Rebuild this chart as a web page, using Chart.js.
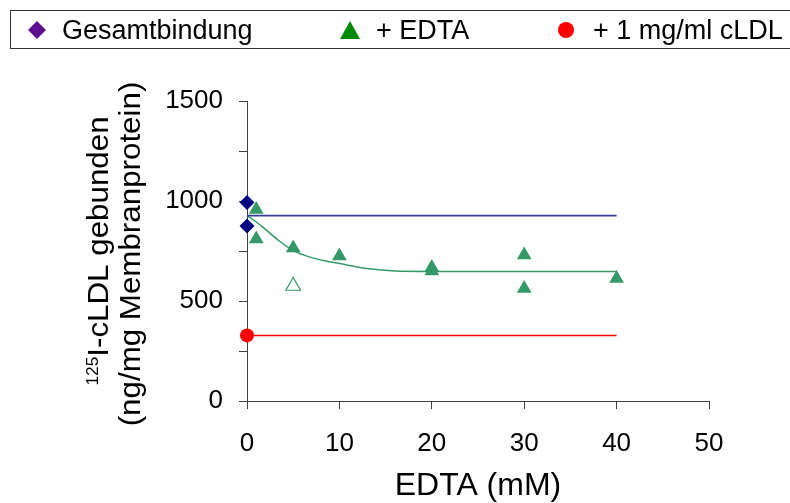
<!DOCTYPE html>
<html>
<head>
<meta charset="utf-8">
<script src="https://cdn.jsdelivr.net/npm/chart.js@4.4.1/dist/chart.umd.min.js"></script>
<style>
  html, body { margin:0; padding:0; background:#fff; overflow:hidden; }
  #wrap { position:relative; width:790px; height:503px; overflow:hidden; }
  canvas { position:absolute; left:0; top:0; }
  #legend { position:absolute; left:10px; top:10px; width:800px; height:39px; border:1px solid #333; box-sizing:border-box;
            font-family:"Liberation Sans", Arial, sans-serif; font-size:27px; color:#000; }
  #legend .item { position:absolute; top:1px; height:37px; line-height:37px; white-space:nowrap; }
  #legend svg { position:absolute; }
</style>
</head>
<body>
<div id="wrap">
  <canvas id="c" width="790" height="503"></canvas>
  <div id="legend"></div>
</div>
<script>
// ---- data ----
const legendLabels = ["Gesamtbindung", "+ EDTA", "+ 1 mg/ml cLDL"];
const totalX = [0, 0];
const totalY = [993, 875];
const totalMeanY = 927;
const edtaX = [1, 1, 5, 10, 20, 20, 30, 30, 40];
const edtaY = [958, 810, 765, 725, 667, 650, 730, 562, 613];
const edtaOpenX = [5];
const edtaOpenY = [575];
const fitX = [0, 1, 2, 3.5, 5, 7, 8.5, 10, 13, 16, 20, 30, 40];
const fitY = [927, 895, 858, 800, 752, 717, 700, 688, 662, 650, 648, 648, 648];
const cldlX = [0];
const cldlY = [328];
const lineXRange = [0, 40];
const xTicks = [0, 10, 20, 30, 40, 50];
const yTickLabels = [0, 500, 1000, 1500];
const xTitle = "EDTA (mM)";
const yTitleSup = "125";
const yTitleLine1 = "I-cLDL gebunden";
const yTitleLine2 = "(ng/mg Membranprotein)";

const pts = (xs, ys) => xs.map((x, i) => ({x, y: ys[i]}));
const hline = (y) => lineXRange.map(x => ({x, y}));

// ---- legend (HTML text) ----
const lg = document.getElementById('legend');
lg.innerHTML =
  '<svg style="left:16px;top:9px" width="20" height="20"><polygon points="10,1 19,10 10,19 1,10" fill="#5c1090"/></svg>' +
  '<div class="item" style="left:51px">' + legendLabels[0] + '</div>' +
  '<svg style="left:328px;top:9px" width="22" height="20"><polygon points="11,1 21,19 1,19" fill="#008a00"/></svg>' +
  '<div class="item" style="left:365px">' + legendLabels[1] + '</div>' +
  '<svg style="left:546px;top:10px" width="18" height="18"><circle cx="9" cy="9" r="8" fill="#ff0000"/></svg>' +
  '<div class="item" style="left:582px">' + legendLabels[2] + '</div>';

const axisColor = '#404040';
const FONT = '"Liberation Sans", Arial, sans-serif';

// y-axis title drawn as canvas text (two lines, superscript, slightly stretched along its length)
const yTitlePlugin = {
  id: 'yTitlePlugin',
  afterDraw(chart) {
    const ctx = chart.ctx;
    const ca = chart.chartArea;
    const cy = (ca.top + ca.bottom) / 2;
    const main = 29, sup = 16, sx = 1.08;
    ctx.save();
    ctx.fillStyle = '#000';
    ctx.textBaseline = 'alphabetic';
    ctx.textAlign = 'left';
    // line 1
    ctx.save();
    ctx.translate(108, cy);
    ctx.rotate(-Math.PI / 2);
    ctx.scale(sx, 1);
    ctx.font = sup + 'px ' + FONT;
    const wSup = ctx.measureText(yTitleSup).width;
    ctx.font = main + 'px ' + FONT;
    const wMain = ctx.measureText(yTitleLine1).width;
    const w1 = wSup + wMain;
    ctx.font = sup + 'px ' + FONT;
    ctx.fillText(yTitleSup, -w1 / 2, -10);
    ctx.font = main + 'px ' + FONT;
    ctx.fillText(yTitleLine1, -w1 / 2 + wSup, 0);
    ctx.restore();
    // line 2
    ctx.save();
    ctx.translate(140, cy + 3);
    ctx.rotate(-Math.PI / 2);
    ctx.scale(sx, 1);
    ctx.font = main + 'px ' + FONT;
    ctx.textAlign = 'center';
    ctx.fillText(yTitleLine2, 0, 0);
    ctx.restore();
    ctx.restore();
  }
};

new Chart(document.getElementById('c'), {
  type: 'scatter',
  data: {
    datasets: [
      { label: legendLabels[0], data: pts(totalX, totalY), pointStyle: 'rectRot', pointRadius: 7.5,
        backgroundColor: '#000080', borderColor: '#000080', borderWidth: 0, order: 1, clip: false },
      { label: legendLabels[1], data: pts(edtaX, edtaY), pointStyle: 'triangle', pointRadius: 8.5,
        backgroundColor: '#339966', borderColor: '#339966', borderWidth: 0, order: 2, clip: false },
      { label: 'open', data: pts(edtaOpenX, edtaOpenY), pointStyle: 'triangle', pointRadius: 8.5,
        backgroundColor: '#ffffff', borderColor: '#339966', borderWidth: 1.2, order: 3, clip: false },
      { label: legendLabels[2], data: pts(cldlX, cldlY), pointStyle: 'circle', pointRadius: 7,
        backgroundColor: '#ff0000', borderColor: '#ff0000', borderWidth: 0, order: 4, clip: false },
      { label: 'mean', data: hline(totalMeanY), showLine: true, pointRadius: 0,
        borderColor: '#3a3a9c', borderWidth: 1.6, order: 10, clip: false },
      { label: 'fit', data: pts(fitX, fitY), showLine: true, pointRadius: 0, cubicInterpolationMode: 'monotone',
        borderColor: '#339966', borderWidth: 1.5, order: 11, clip: false },
      { label: 'cldl', data: hline(cldlY[0]), showLine: true, pointRadius: 0,
        borderColor: '#ff0000', borderWidth: 1.5, order: 12, clip: false }
    ]
  },
  options: {
    responsive: false,
    animation: false,
    devicePixelRatio: 1,
    layout: { padding: { top: 101, right: 81, left: 0, bottom: 0 } },
    plugins: { legend: { display: false }, tooltip: { enabled: false } },
    scales: {
      x: {
        type: 'linear', min: 0, max: 50,
        afterBuildTicks: (s) => { s.ticks = xTicks.map(v => ({value: v})); },
        afterFit: (s) => { s.height = 102; },
        grid: { display: true, drawOnChartArea: false, drawTicks: true, tickLength: 8, color: axisColor, lineWidth: 1 },
        border: { display: true, color: axisColor, width: 1 },
        ticks: { color: '#000', font: { family: FONT, size: 26 }, padding: 19, maxRotation: 0 },
        title: { display: true, text: xTitle, color: '#000', font: { family: FONT, size: 32, lineHeight: 1.0 },
                 padding: { top: 0, bottom: 1 } }
      },
      y: {
        type: 'linear', min: 0, max: 1500,
        ticks: { stepSize: 250, color: '#000', font: { family: FONT, size: 26 }, padding: 16,
                 callback: (v) => yTickLabels.includes(v) ? String(v) : '' },
        afterFit: (s) => { s.width = 247; },
        grid: { display: true, drawOnChartArea: false, drawTicks: true, tickLength: 8, color: axisColor, lineWidth: 1 },
        border: { display: true, color: axisColor, width: 1 },
        title: { display: false }
      }
    }
  },
  plugins: [yTitlePlugin]
});
</script>
</body>
</html>
